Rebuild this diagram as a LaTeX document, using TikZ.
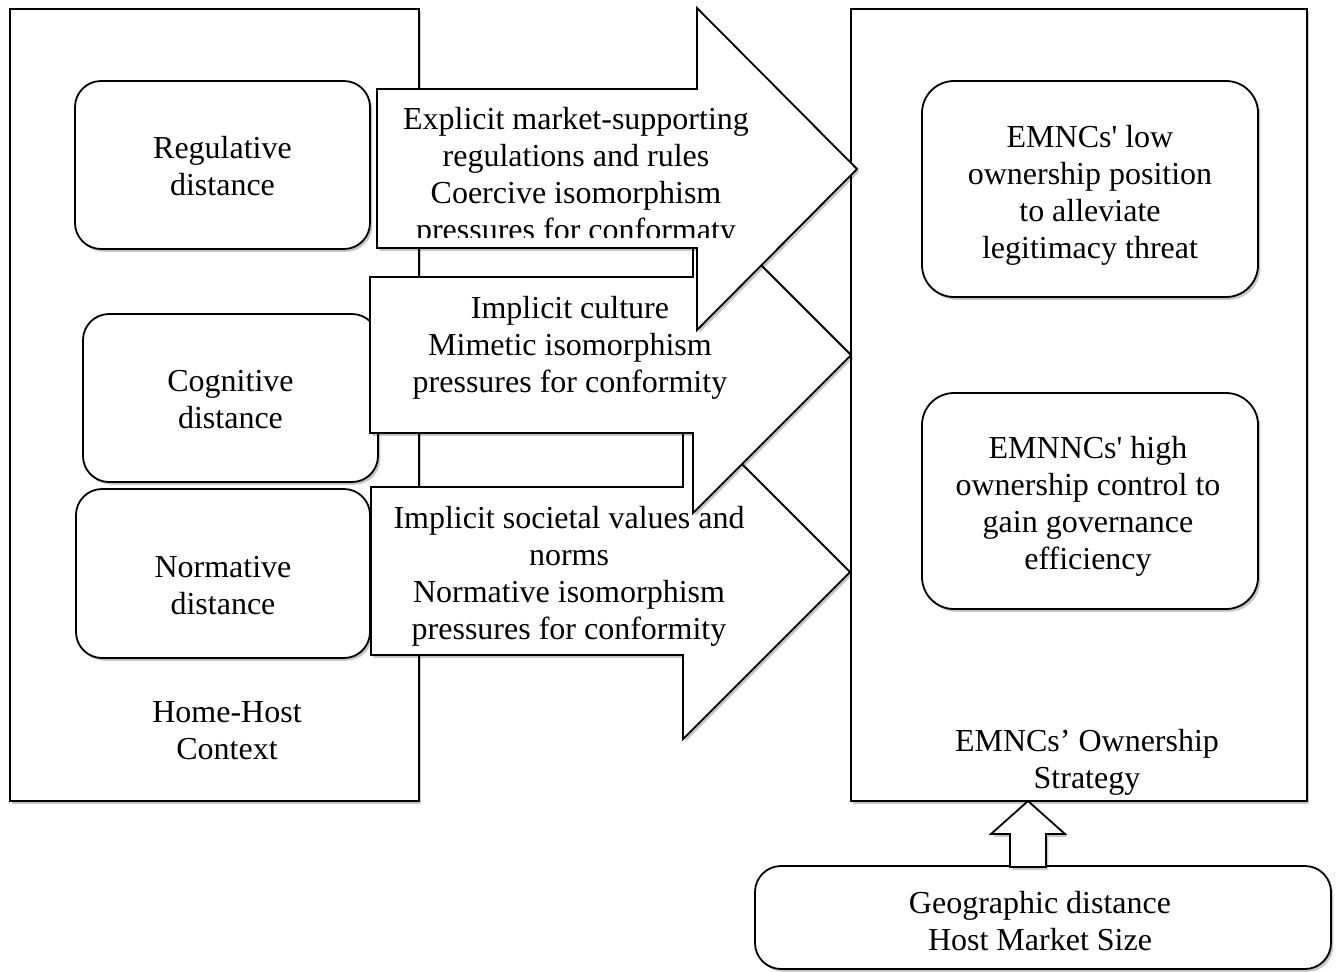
\documentclass[tikz,border=0pt]{standalone}
\usepackage{fontspec}
\setmainfont{Liberation Serif}[Ligatures=TeXOff]
\usetikzlibrary{shadows}
\begin{document}
\begin{tikzpicture}[x=0.5pt,y=-0.5pt,
  every node/.style={font=\fontsize{16}{18.5}\selectfont, align=center, inner sep=0pt},
  shdw/.style={drop shadow={shadow xshift=1.2pt,shadow yshift=-1.4pt,opacity=0.22,fill=black}},
  frame/.style={draw, line width=0.9pt, fill=white, shdw},
  rbox/.style={draw, line width=0.9pt, fill=white, rounded corners=13pt, shdw},
  bigarrow/.style={draw, line width=0.9pt, fill=white, line join=miter, shdw},
  txt/.style={text=black}]
\useasboundingbox (0,0) rectangle (1338,971);

% outer frames
\node[frame, minimum width=204.5pt, minimum height=396pt] (home) at (214.5,405) {};
\node[txt] (homelbl) at (227,731) {Home-Host\\Context};
\node[frame, minimum width=228pt, minimum height=396pt] (strat) at (1079,405) {};
\node[txt] (stratlbl) at (1087,762) {EMNCs’ Ownership\\Strategy};

% left rounded boxes
\node[rbox, minimum width=147.5pt, minimum height=84pt] (reg) at (222.5,165) {};
\node[txt] (reglbl) at (222.5,166) {Regulative\\distance};
\node[rbox, minimum width=147.5pt, minimum height=84pt] (cog) at (230.5,398) {};
\node[txt] (coglbl) at (230.5,400) {Cognitive\\distance};
\node[rbox, minimum width=147pt, minimum height=84.5pt] (norm) at (223,573.5) {};
\node[txt] (normlbl) at (223,586) {Normative\\distance};

% right rounded boxes
\node[rbox, rounded corners=16pt, minimum width=168pt, minimum height=108pt] (low) at (1090,189) {};
\node[txt] (lowlbl) at (1090,195) {EMNCs' low\\ownership position\\to alleviate\\legitimacy threat};
\node[rbox, rounded corners=16pt, minimum width=168pt, minimum height=108pt] (high) at (1090,501) {};
\node[txt] (highlbl) at (1088,506) {EMNNCs' high\\ownership control to\\gain governance\\efficiency};

% bottom box and up arrow
\node[rbox, minimum width=288pt, minimum height=51.5pt] (geo) at (1043,917.5) {};
\node[txt] (geolbl) at (1040,921) {Geographic distance\\Host Market Size};
\coordinate (uptip) at (1028,801);
\draw[bigarrow] (1010,867) -- (1010,834) -- (991,834) -- (uptip) -- (1065,834) -- (1046,834) -- (1046,867) -- cycle;

% big arrows (bottom first)
\draw[bigarrow] (371,487) -- (683,487) -- (683,405) -- (850,572) -- (683,739) -- (683,655) -- (371,655) -- cycle;
\draw[bigarrow] (370,277) -- (693,277) -- (693,197) -- (851,355) -- (693,513) -- (693,433) -- (370,433) -- cycle;
\draw[bigarrow] (377,89) -- (697,89) -- (697,8) -- (857,169) -- (697,330) -- (697,248) -- (377,248) -- cycle;

% arrow texts
\node[txt] (a3lbl) at (569,576) {Implicit societal values and\\norms\\Normative isomorphism\\pressures for conformity};
\node[txt] (a2lbl) at (570,348) {Implicit culture\\Mimetic isomorphism\\pressures for conformity};
\begin{scope}
  \clip (379,91) rectangle (855,237);
  \node[txt] (a1lbl) at (576,177) {Explicit market-supporting\\regulations and rules\\Coercive isomorphism\\pressures for conformaty};
\end{scope}
\end{tikzpicture}
\end{document}
